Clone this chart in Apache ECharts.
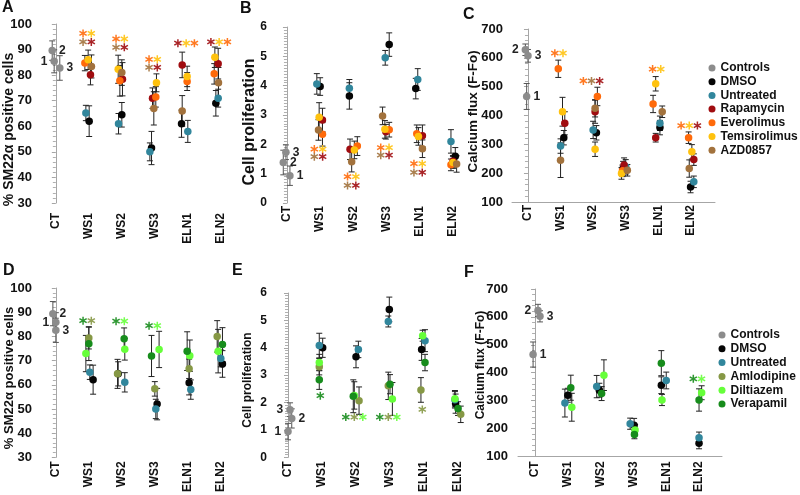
<!DOCTYPE html>
<html><head><meta charset="utf-8">
<script src="https://cdn.jsdelivr.net/npm/echarts@6/dist/echarts.min.js"></script>
<style>html,body{margin:0;padding:0;background:#fff}#c{width:800px;height:495px}</style>
</head><body><div id="c"></div>
<script>
const cats = ['CT','WS1','WS2','WS3','ELN1','ELN2'];
const TOP_GROUPS = ['DMSO','Untreated','Rapamycin','Everolimus','Temsirolimus','AZD0857'];
const BOT_GROUPS = ['DMSO','Untreated','Amlodipine','Diltiazem','Verapamil'];
const LEGEND_TOP = ['Controls','DMSO','Untreated','Rapamycin','Everolimus','Temsirolimus','AZD0857'];
const LEGEND_BOT = ['Controls','DMSO','Untreated','Amlodipine','Diltiazem','Verapamil'];

// ---------- Panel A : % SM22a positive cells ----------
const A_CT = [85.4, 89.6, 82.8];            const A_CT_err = [4.5, 3.8, 4.8];       const A_CT_dx = [-0.05, -0.11, 0.12];
const A_DMSO = [62.0, 64.5, 51.5, 61.0, 69.0];         const A_DMSO_err = [6, 4.8, 6.5, 5.3, 5];       const A_DMSO_dx = [0.01, 0.0, -0.1, -0.19, -0.15];
const A_Untreated = [65.2, 61.0, 50.0, 58.0, 71.0];    const A_Untreated_err = [3, 4, 3.5, 4.3, 3.5];  const A_Untreated_dx = [-0.09, -0.1, -0.15, 0.0, -0.08];
const A_Rapamycin = [80.2, 78.4, 71.0, 84.0, 84.5];    const A_Rapamycin_err = [4, 6.5, 4, 5, 6];      const A_Rapamycin_dx = [0.05, 0.02, -0.07, -0.17, -0.08];
const A_Everolimus = [84.7, 77.8, 71.5, 77.5, 80.5];   const A_Everolimus_err = [3, 6, 4, 3.5, 4];     const A_Everolimus_dx = [-0.12, -0.06, 0.03, -0.02, -0.2];
const A_Temsirolimus = [86.0, 82.3, 77.0, 79.5, 87.0]; const A_Temsirolimus_err = [3.8, 5.5, 3.5, 4, 4]; const A_Temsirolimus_dx = [-0.02, -0.11, 0.05, -0.02, -0.18];
const A_AZD0857 = [83.4, 81.0, 67.0, 66.0, 77.0];      const A_AZD0857_err = [4.5, 5, 6.5, 6, 6];      const A_AZD0857_dx = [0.08, 0.0, -0.03, -0.17, -0.07];
const A_STARS = [[1, 96.3, ['Everolimus','Temsirolimus']], [1, 93.0, ['AZD0857','Rapamycin']],
                 [2, 94.2, ['Everolimus','Temsirolimus']], [2, 90.9, ['AZD0857','Rapamycin']],
                 [3, 86.2, ['Everolimus','Temsirolimus']], [3, 83.0, ['AZD0857','Rapamycin']],
                 [4, 92.5, ['Rapamycin','Temsirolimus','Everolimus']], [5, 93.0, ['Rapamycin','Temsirolimus','Everolimus']]];

// ---------- Panel B : Cell proliferation ----------
const B_CT = [0.93, 1.38, 1.73];            const B_CT_err = [0.33, 0.42, 0.25];    const B_CT_dx = [0.09, -0.11, -0.03];
const B_DMSO = [3.97, 3.65, 5.40, 3.90, 1.59];         const B_DMSO_err = [0.3, 0.45, 0.4, 0.35, 0.3];   const B_DMSO_dx = [0.0, -0.12, 0.08, -0.12, 0.07];
const B_Untreated = [4.06, 3.91, 4.95, 4.21, 2.10];    const B_Untreated_err = [0.35, 0.3, 0.25, 0.37, 0.4]; const B_Untreated_dx = [-0.1, -0.12, -0.04, -0.06, -0.06];
const B_Rapamycin = [2.83, 1.83, 2.43, 2.29, 1.42];    const B_Rapamycin_err = [0.4, 0.35, 0.25, 0.37, 0.2]; const B_Rapamycin_dx = [0.07, -0.1, -0.02, 0.08, 0.0];
const B_Everolimus = [2.34, 1.94, 2.50, 2.36, 1.30];   const B_Everolimus_err = [0.4, 0.32, 0.25, 0.3, 0.2]; const B_Everolimus_dx = [0.07, 0.12, 0.08, -0.09, -0.06];
const B_Temsirolimus = [2.92, 1.81, 2.51, 2.27, 1.38]; const B_Temsirolimus_err = [0.5, 0.3, 0.3, 0.3, 0.2]; const B_Temsirolimus_dx = [-0.03, 0.03, -0.05, -0.04, 0.0];
const B_AZD0857 = [2.49, 1.41, 2.97, 1.85, 1.33];      const B_AZD0857_err = [0.35, 0.35, 0.3, 0.3, 0.28]; const B_AZD0857_dx = [-0.05, -0.05, -0.12, 0.08, 0.11];
const B_STARS = [[1, 1.84, ['Everolimus','Temsirolimus']], [1, 1.58, ['AZD0857','Rapamycin']],
                 [2, 0.90, ['Everolimus','Temsirolimus']], [2, 0.60, ['AZD0857','Rapamycin']],
                 [3, 1.89, ['Everolimus','Temsirolimus']], [3, 1.63, ['AZD0857','Rapamycin']],
                 [4, 1.34, ['Everolimus','Temsirolimus']], [4, 1.04, ['AZD0857','Rapamycin']]];

// ---------- Panel C : Calcium flux ----------
const C_CT = [466, 628, 607];               const C_CT_err = [45, 20, 22];          const C_CT_dx = [-0.04, -0.08, 0.0];
const C_DMSO = [323, 340, 216, 358, 152];         const C_DMSO_err = [25, 25, 25, 25, 20];       const C_DMSO_dx = [0.1, 0.1, -0.08, 0.05, -0.01];
const C_Untreated = [294, 350, 222, 373, 170];    const C_Untreated_err = [25, 30, 25, 25, 20];  const C_Untreated_dx = [0.0, 0.0, 0.0, 0.05, 0.09];
const C_Rapamycin = [373, 413, 228, 323, 247];    const C_Rapamycin_err = [40, 40, 25, 15, 20];  const C_Rapamycin_dx = [0.13, 0.06, -0.05, -0.08, 0.09];
const C_Everolimus = [562, 466, 208, 440, 323];   const C_Everolimus_err = [30, 32, 20, 30, 20]; const C_Everolimus_dx = [-0.07, 0.13, -0.1, -0.16, -0.07];
const C_Temsirolimus = [413, 283, 199, 510, 274]; const C_Temsirolimus_err = [50, 25, 20, 25, 25]; const C_Temsirolimus_dx = [0.06, 0.06, -0.13, -0.08, 0.03];
const C_AZD0857 = [245, 425, 210, 413, 216];      const C_AZD0857_err = [60, 30, 20, 20, 30];    const C_AZD0857_dx = [0.0, 0.06, 0.05, 0.12, -0.05];
const C_STARS = [[1, 616, ['Everolimus','Temsirolimus']], [2, 520, ['Everolimus','AZD0857','Rapamycin']],
                 [4, 561, ['Everolimus','Temsirolimus']], [5, 365, ['Everolimus','Temsirolimus','Rapamycin']]];

// ---------- Panel D : % SM22a positive cells ----------
const D_CT = [85.8, 89.4, 82.5];            const D_CT_err = [4, 5, 5];             const D_CT_dx = [0.0, -0.09, 0.0];
const D_DMSO = [62.1, 64.5, 52.0, 60.8, 68.6];       const D_DMSO_err = [6, 5, 6.5, 5, 5.5];        const D_DMSO_dx = [0.13, -0.11, 0.07, 0.04, 0.05];
const D_Untreated = [65.2, 61.0, 50.0, 58.0, 70.9];  const D_Untreated_err = [3, 4, 4, 4, 3.5];     const D_Untreated_dx = [0.03, 0.09, 0.03, 0.09, 0.0];
const D_Amlodipine = [79.3, 64.5, 58.3, 66.6, 80.0]; const D_Amlodipine_err = [4.5, 6, 3, 4, 6.5]; const D_Amlodipine_dx = [0.0, -0.13, 0.0, 0.04, -0.11];
const D_Diltiazem = [72.9, 74.7, 74.6, 72.0, 73.9];  const D_Diltiazem_err = [7.5, 4.5, 7.5, 6.5, 9]; const D_Diltiazem_dx = [-0.09, 0.09, 0.13, 0.06, -0.08];
const D_Verapamil = [77.0, 79.0, 71.9, 73.9, 76.6];  const D_Verapamil_err = [7, 4.5, 8.5, 8, 7];    const D_Verapamil_dx = [0.0, 0.07, -0.1, -0.02, 0.05];
const D_STARS = [[1, 86.5, ['Verapamil','Amlodipine']], [2, 86.3, ['Verapamil','Diltiazem']], [3, 84.4, ['Verapamil','Diltiazem']]];

// ---------- Panel E : Cell proliferation ----------
const E_CT = [0.94, 1.42, 1.74];            const E_CT_err = [0.3, 0.35, 0.25];     const E_CT_dx = [0.0, 0.11, 0.06];
const E_DMSO = [4.00, 3.67, 5.40, 3.94, 1.96];       const E_DMSO_err = [0.35, 0.4, 0.45, 0.4, 0.35];   const E_DMSO_dx = [0.02, 0.0, -0.02, -0.07, -0.07];
const E_Untreated = [4.08, 3.94, 4.96, 4.26, 2.10];  const E_Untreated_err = [0.45, 0.3, 0.2, 0.4, 0.3];  const E_Untreated_dx = [-0.08, 0.07, -0.05, 0.03, -0.09];
const E_Amlodipine = [3.31, 2.07, 2.61, 2.46, 1.57]; const E_Amlodipine_err = [0.3, 0.5, 0.5, 0.45, 0.3]; const E_Amlodipine_dx = [-0.08, 0.09, -0.05, -0.09, 0.08];
const E_Diltiazem = [3.46, 2.26, 2.13, 4.44, 2.14];  const E_Diltiazem_err = [0.3, 0.5, 0.6, 0.2, 0.3];  const E_Diltiazem_dx = [-0.08, -0.05, 0.07, -0.04, -0.09];
const E_Verapamil = [2.83, 2.23, 2.67, 3.46, 1.78];  const E_Verapamil_err = [0.35, 0.6, 0.35, 0.3, 0.25]; const E_Verapamil_dx = [-0.08, -0.08, 0.0, 0.03, 0.0];
const E_STARS = [[1, 2.25, ['Verapamil']], [2, 1.47, ['Verapamil','Amlodipine','Diltiazem']],
                 [3, 1.47, ['Verapamil','Amlodipine','Diltiazem']], [4, 1.75, ['Amlodipine']]];

// ---------- Panel F : Calcium flux ----------
const F_CT = [465, 623, 602];               const F_CT_err = [45, 22, 20];          const F_CT_dx = [-0.06, 0.09, 0.15];
const F_DMSO = [319, 337, 211, 355, 147];       const F_DMSO_err = [25, 25, 25, 30, 20];      const F_DMSO_dx = [0.0, -0.04, 0.02, -0.15, 0.0];
const F_Untreated = [291, 350, 217, 372, 167];  const F_Untreated_err = [50, 40, 20, 30, 20];  const F_Untreated_dx = [-0.09, -0.12, -0.1, 0.0, 0.0];
const F_Amlodipine = [null, null, null, null, null]; const F_Amlodipine_err = [0, 0, 0, 0, 0]; const F_Amlodipine_dx = [0, 0, 0, 0, 0];
const F_Diltiazem = [276, 391, 194, 302, 328];  const F_Diltiazem_err = [50, 55, 20, 20, 25];  const F_Diltiazem_dx = [0.12, 0.1, 0.05, -0.13, 0.08];
const F_Verapamil = [346, 325, 178, 434, 302];  const F_Verapamil_err = [45, 25, 15, 45, 40];  const F_Verapamil_dx = [0.09, 0.03, 0.03, -0.15, 0.0];
const F_STARS = [[5, 378, ['Verapamil','Diltiazem']]];

// ---------- styles ----------
const COLORS = {Controls:'#8c8c8c', DMSO:'#050505', Untreated:'#31869c', Rapamycin:'#a00c10',
  Everolimus:'#ff6a0a', Temsirolimus:'#ffc20e', AZD0857:'#a2723d',
  Amlodipine:'#869845', Diltiazem:'#66ff3a', Verapamil:'#178c1c'};
const FONT = '"Liberation Sans", Arial, sans-serif';
const STAR = 'path://M-0.18,-1L0.18,-1L0.18,1L-0.18,1ZM0.776,-0.656L0.956,-0.344L-0.776,0.656L-0.956,0.344ZM0.956,0.344L0.776,0.656L-0.956,-0.344L-0.776,-0.656Z';

const panels = [
  {grid:{left:40, top:24, width:200.6, height:179}, x:[-0.48,5.6], y:[30,100,10,5], ylab:13, ymargin:8, xmargin:10, xline:false,
   ct:[A_CT,A_CT_err,A_CT_dx], ctPos:['left','right','right'], groups:TOP_GROUPS,
   data:{DMSO:[A_DMSO,A_DMSO_err,A_DMSO_dx], Untreated:[A_Untreated,A_Untreated_err,A_Untreated_dx], Rapamycin:[A_Rapamycin,A_Rapamycin_err,A_Rapamycin_dx],
         Everolimus:[A_Everolimus,A_Everolimus_err,A_Everolimus_dx], Temsirolimus:[A_Temsirolimus,A_Temsirolimus_err,A_Temsirolimus_dx], AZD0857:[A_AZD0857,A_AZD0857_err,A_AZD0857_dx]},
   stars:A_STARS},
  {grid:{left:271, top:27, width:205.2, height:176}, x:[-0.48,5.7], y:[0,6,1,10], ylab:12, ymargin:4, xmargin:3, xline:false,
   ct:[B_CT,B_CT_err,B_CT_dx], ctPos:['right','right','right'], groups:TOP_GROUPS,
   data:{DMSO:[B_DMSO,B_DMSO_err,B_DMSO_dx], Untreated:[B_Untreated,B_Untreated_err,B_Untreated_dx], Rapamycin:[B_Rapamycin,B_Rapamycin_err,B_Rapamycin_dx],
         Everolimus:[B_Everolimus,B_Everolimus_err,B_Everolimus_dx], Temsirolimus:[B_Temsirolimus,B_Temsirolimus_err,B_Temsirolimus_dx], AZD0857:[B_AZD0857,B_AZD0857_err,B_AZD0857_dx]},
   stars:B_STARS},
  {grid:{left:512, top:29, width:203, height:173}, x:[-0.49,5.74], y:[100,700,100,5], ylab:13, ymargin:9, xmargin:3, xline:true,
   ct:[C_CT,C_CT_err,C_CT_dx], ctPos:['right','left','right'], groups:TOP_GROUPS,
   data:{DMSO:[C_DMSO,C_DMSO_err,C_DMSO_dx], Untreated:[C_Untreated,C_Untreated_err,C_Untreated_dx], Rapamycin:[C_Rapamycin,C_Rapamycin_err,C_Rapamycin_dx],
         Everolimus:[C_Everolimus,C_Everolimus_err,C_Everolimus_dx], Temsirolimus:[C_Temsirolimus,C_Temsirolimus_err,C_Temsirolimus_dx], AZD0857:[C_AZD0857,C_AZD0857_err,C_AZD0857_dx]},
   stars:C_STARS},
  {grid:{left:40, top:288, width:200.6, height:172}, x:[-0.48,5.6], y:[30,100,10,5], ylab:13, ymargin:8, xmargin:4, xline:false,
   ct:[D_CT,D_CT_err,D_CT_dx], ctPos:['left','right','right'], groups:BOT_GROUPS,
   data:{DMSO:[D_DMSO,D_DMSO_err,D_DMSO_dx], Untreated:[D_Untreated,D_Untreated_err,D_Untreated_dx], Amlodipine:[D_Amlodipine,D_Amlodipine_err,D_Amlodipine_dx],
         Diltiazem:[D_Diltiazem,D_Diltiazem_err,D_Diltiazem_dx], Verapamil:[D_Verapamil,D_Verapamil_err,D_Verapamil_dx]},
   stars:D_STARS},
  {grid:{left:271, top:293, width:207.4, height:166}, x:[-0.5,5.6], y:[0,6,1,10], ylab:12, ymargin:4, xmargin:4, xline:false,
   ct:[E_CT,E_CT_err,E_CT_dx], ctPos:['left','right','left'], groups:BOT_GROUPS,
   data:{DMSO:[E_DMSO,E_DMSO_err,E_DMSO_dx], Untreated:[E_Untreated,E_Untreated_err,E_Untreated_dx], Amlodipine:[E_Amlodipine,E_Amlodipine_err,E_Amlodipine_dx],
         Diltiazem:[E_Diltiazem,E_Diltiazem_err,E_Diltiazem_dx], Verapamil:[E_Verapamil,E_Verapamil_err,E_Verapamil_dx]},
   stars:E_STARS},
  {grid:{left:518, top:289, width:204, height:171}, x:[-0.52,5.7], y:[100,700,100,5], ylab:13, ymargin:10, xmargin:5, xline:true,
   ct:[F_CT,F_CT_err,F_CT_dx], ctPos:['right','left','right'], groups:BOT_GROUPS,
   data:{DMSO:[F_DMSO,F_DMSO_err,F_DMSO_dx], Untreated:[F_Untreated,F_Untreated_err,F_Untreated_dx], Amlodipine:[F_Amlodipine,F_Amlodipine_err,F_Amlodipine_dx],
         Diltiazem:[F_Diltiazem,F_Diltiazem_err,F_Diltiazem_dx], Verapamil:[F_Verapamil,F_Verapamil_err,F_Verapamil_dx]},
   stars:F_STARS}
];

function errRender(color) {
  return function (params, api) {
    const x = api.value(0), y = api.value(1), e = api.value(2);
    const t = api.coord([x, y + e]), b = api.coord([x, y - e]);
    const w = 3, st = {stroke: color, lineWidth: 1};
    return {type: 'group', children: [
      {type: 'line', shape: {x1: t[0], y1: t[1], x2: b[0], y2: b[1]}, style: st},
      {type: 'line', shape: {x1: t[0] - w, y1: t[1], x2: t[0] + w, y2: t[1]}, style: st},
      {type: 'line', shape: {x1: b[0] - w, y1: b[1], x2: b[0] + w, y2: b[1]}, style: st}
    ]};
  };
}

const grids = [], xAxes = [], yAxes = [], series = [];
panels.forEach((p, i) => {
  grids.push(Object.assign({containLabel: false}, p.grid));
  xAxes.push({type: 'value', gridIndex: i, min: p.x[0], max: p.x[1],
    axisLine: {show: p.xline, lineStyle: {color: '#a6a6a6', width: 1}},
    axisTick: {show: false}, splitLine: {show: false},
    axisLabel: {customValues: [0,1,2,3,4,5], formatter: v => cats[Math.round(v)], rotate: 90, margin: p.xmargin,
      fontFamily: FONT, fontWeight: 'bold', fontSize: 12, color: '#111'}});
  yAxes.push({type: 'value', gridIndex: i, min: p.y[0], max: p.y[1], interval: p.y[2],
    axisLine: {show: true, lineStyle: {color: '#a6a6a6'}},
    axisTick: {show: true, length: 4, lineStyle: {color: '#a6a6a6'}},
    minorTick: {show: true, splitNumber: p.y[3], length: 3, lineStyle: {color: '#b0b0b0'}},
    splitLine: {show: false},
    axisLabel: {margin: p.ymargin, fontFamily: FONT, fontWeight: 'bold', fontSize: p.ylab, color: '#111'}});

  // error bars
  const errCt = p.ct[0].map((v, k) => [p.ct[2][k], v, p.ct[1][k]]);
  series.push({type: 'custom', name: 'errCtrl' + i, xAxisIndex: i, yAxisIndex: i, silent: true, z: 2,
    renderItem: errRender('#555'), data: errCt, encode: {x: 0, y: 1}});
  const errG = [];
  p.groups.forEach(g => {
    const d = p.data[g];
    d[0].forEach((v, k) => { if (v != null) errG.push([k + 1 + d[2][k], v, d[1][k]]); });
  });
  series.push({type: 'custom', name: 'err' + i, xAxisIndex: i, yAxisIndex: i, silent: true, z: 2,
    renderItem: errRender('#222'), data: errG, encode: {x: 0, y: 1}});

  // controls
  series.push({type: 'scatter', name: 'Controls', xAxisIndex: i, yAxisIndex: i, symbolSize: 7.5, z: 3,
    itemStyle: {color: COLORS.Controls, opacity: 1},
    data: p.ct[0].map((v, k) => ({value: [p.ct[2][k], v], name: String(k + 1),
      label: {show: true, position: p.ctPos[k], distance: 3, formatter: '{b}', fontFamily: FONT, fontWeight: 'bold', fontSize: 12, color: '#222'}}))});
  // groups
  p.groups.forEach(g => {
    const d = p.data[g];
    const pts = [];
    d[0].forEach((v, k) => { if (v != null) pts.push([k + 1 + d[2][k], v]); });
    series.push({type: 'scatter', name: g, xAxisIndex: i, yAxisIndex: i, symbolSize: 7.5, z: 3,
      itemStyle: {color: COLORS[g], opacity: 1}, data: pts});
  });
  // significance stars
  const sd = [];
  p.stars.forEach(s => {
    const n = s[2].length;
    s[2].forEach((g, k) => sd.push({value: [s[0] - 0.05 + (k - (n - 1) / 2) * 0.25, s[1]], itemStyle: {color: COLORS[g]}}));
  });
  series.push({type: 'scatter', name: 'sig' + i, xAxisIndex: i, yAxisIndex: i, symbol: STAR, symbolSize: 8, z: 4, silent: true,
    itemStyle: {opacity: 0.9}, data: sd});
});

const legendText = {fontFamily: FONT, fontWeight: 'bold', fontSize: 12, color: '#111', lineHeight: 13};
function vtext(x, y, text, size) {
  return {type: 'text', x: x, y: y, rotation: Math.PI / 2, silent: true,
    style: {text: text, font: 'bold ' + size + 'px ' + FONT, fill: '#111', align: 'center', verticalAlign: 'middle', textAlign: 'center', textVerticalAlign: 'middle'}};
}
function letter(x, y, t) {
  return {type: 'text', x: x, y: y, silent: true,
    style: {text: t, font: 'bold 16px ' + FONT, fill: '#111', align: 'left', verticalAlign: 'top', textAlign: 'left', textVerticalAlign: 'top'}};
}

const option = {
  animation: false,
  backgroundColor: '#fff',
  grid: grids, xAxis: xAxes, yAxis: yAxes, series: series,
  legend: [
    {data: LEGEND_TOP, orient: 'vertical', left: 708.5, top: 61.5, padding: 0, itemGap: 0.7, itemWidth: 7, itemHeight: 7,
     icon: 'circle', textStyle: legendText, selectedMode: false},
    {data: LEGEND_BOT, orient: 'vertical', left: 718.5, top: 328.5, padding: 0, itemGap: 0.8, itemWidth: 7, itemHeight: 7,
     icon: 'circle', textStyle: legendText, selectedMode: false}
  ],
  graphic: [
    letter(2, 0, 'A'), letter(240, 1, 'B'), letter(463, 7, 'C'),
    letter(3, 263, 'D'), letter(232, 263, 'E'), letter(464, 265, 'F'),
    vtext(9, 129.5, '% SM22α positive cells', 14),
    vtext(249.5, 122, 'Cell proliferation', 16),
    vtext(473.5, 111.5, 'Calcium flux (F-Fo)', 13.5),
    vtext(9, 378, '% SM22α positive cells', 13),
    vtext(247.5, 380, 'Cell proliferation', 12),
    vtext(481, 365, 'Calcium flux (F-Fo)', 12)
  ]
};
const chart = echarts.init(document.getElementById('c'), null, {renderer: 'canvas'});
chart.setOption(option);
</script></body></html>
